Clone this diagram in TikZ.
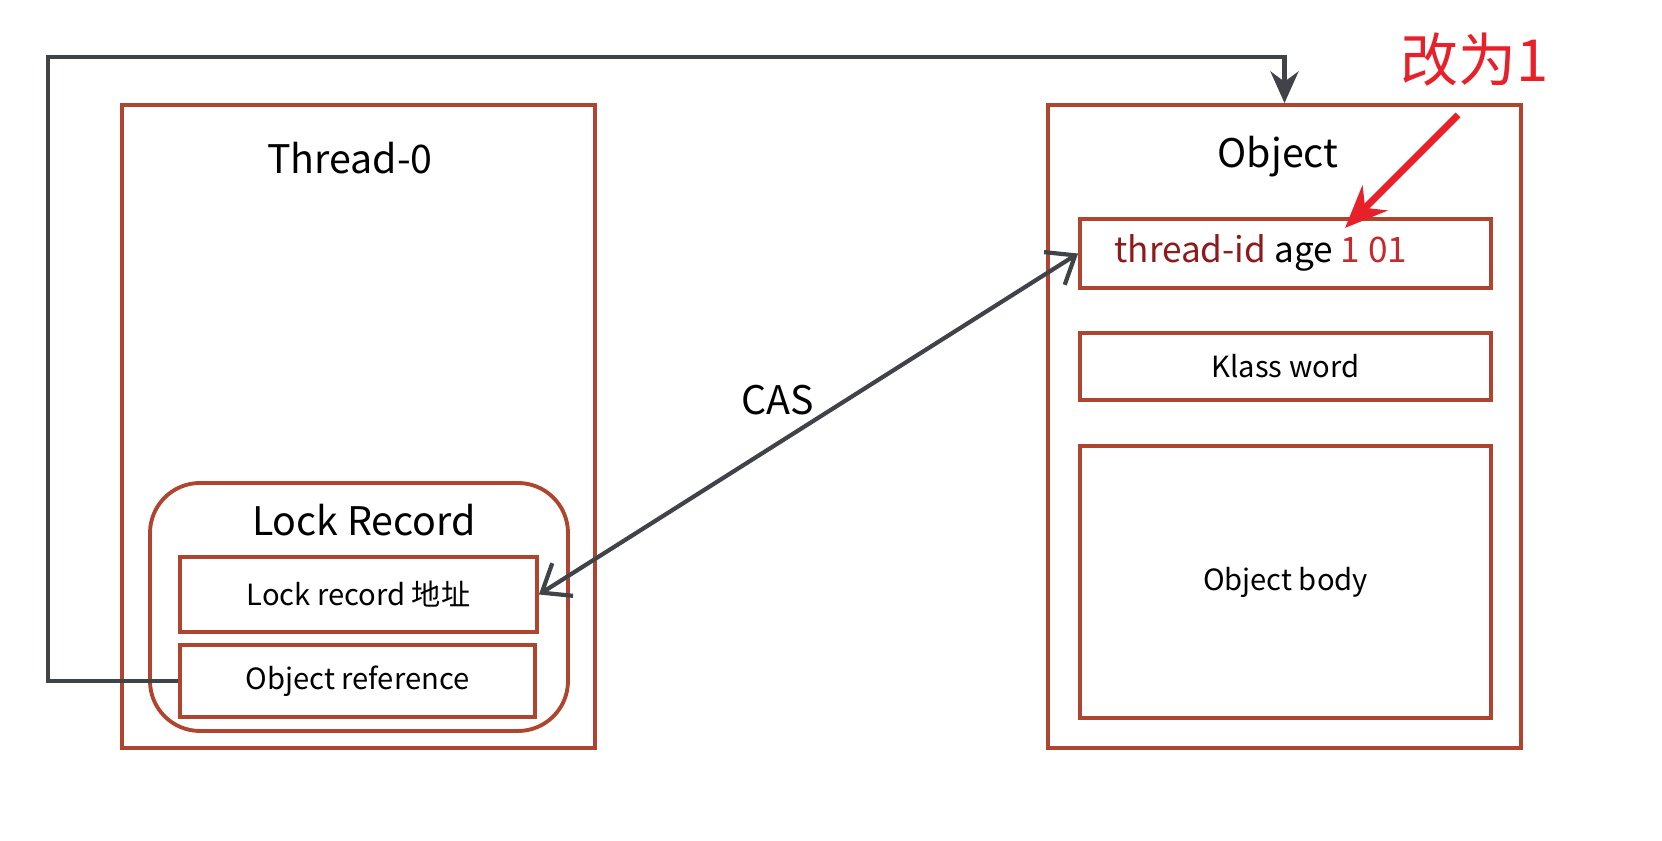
\documentclass[tikz,border=0pt]{standalone}
\usepackage{fontspec}
\setmainfont{Noto Sans CJK SC}
\usetikzlibrary{arrows.meta}

\definecolor{boxred}{HTML}{B0452F}
\definecolor{linegray}{HTML}{404448}
\definecolor{iddark}{HTML}{8E1B1B}
\definecolor{bitred}{HTML}{C42A2E}
\definecolor{notered}{HTML}{E8202A}

\tikzset{
    membox/.style={draw=boxred, line width=1.1pt, inner sep=0pt},
    headtext/.style={font=\fontsize{11.2}{14}\selectfont},
    fieldtext/.style={font=\fontsize{8.3}{10}\selectfont},
    conn/.style={draw=linegray, line width=1.2pt}
}

\begin{document}
\begin{tikzpicture}
    \useasboundingbox (0, 0) rectangle (16.62, -8.41);

    % thread side
    \node[membox, minimum width=4.73cm, minimum height=6.43cm] (thread) at (3.585, -4.265) {};
    \node[headtext] (threadname) at (3.50, -1.58) {Thread-0};
    \node[membox, rounded corners=0.5cm, minimum width=4.18cm, minimum height=2.48cm] (lockrec) at (3.59, -6.07) {};
    \node[headtext] (lockname) at (3.64, -5.20) {Lock Record};
    \node[membox, fieldtext, minimum width=3.57cm, minimum height=0.75cm] (lraddr) at (3.585, -5.945) {Lock record 地址};
    \node[membox, fieldtext, minimum width=3.55cm, minimum height=0.72cm] (objref) at (3.575, -6.81) {Object reference};

    % object side
    \node[membox, minimum width=4.73cm, minimum height=6.43cm] (obj) at (12.845, -4.265) {};
    \node[headtext] (objname) at (12.78, -1.57) {Object};
    \node[membox, minimum width=4.11cm, minimum height=0.69cm] (tid) at (12.855, -2.535) {};
    \node[font=\fontsize{10}{12}\selectfont, anchor=west] (tidtext) at (11.02, -2.53) {\textcolor{iddark}{thread-id} age \textcolor{bitred}{1 01}};
    \node[membox, fieldtext, minimum width=4.11cm, minimum height=0.67cm] (klass) at (12.855, -3.665) {Klass word};
    \node[membox, fieldtext, minimum width=4.11cm, minimum height=2.72cm] (body) at (12.855, -5.82) {Object body};

    % references
    \coordinate (loopcorner) at (0.48, -0.57);
    \draw[conn, -{Stealth[length=9pt, width=8pt]}] (objref.west) -| (loopcorner) -| (obj.north);
    \draw[conn, {Straight Barb[length=7pt, width=11pt]}-{Straight Barb[length=7pt, width=11pt]}] (lraddr.east) -- (tid.west);
    \node[headtext] (cas) at (7.78, -4.00) {CAS};

    % note
    \node[text=notered, font=\fontsize{16.5}{20}\selectfont] (note) at (14.75, -0.60) {改为1};
    \coordinate (notetail) at (14.58, -1.15);
    \coordinate (notehead) at (13.45, -2.28);
    \draw[notered, line width=2pt, -{Stealth[length=12pt, width=10pt]}] (notetail) -- (notehead);
\end{tikzpicture}
\end{document}
